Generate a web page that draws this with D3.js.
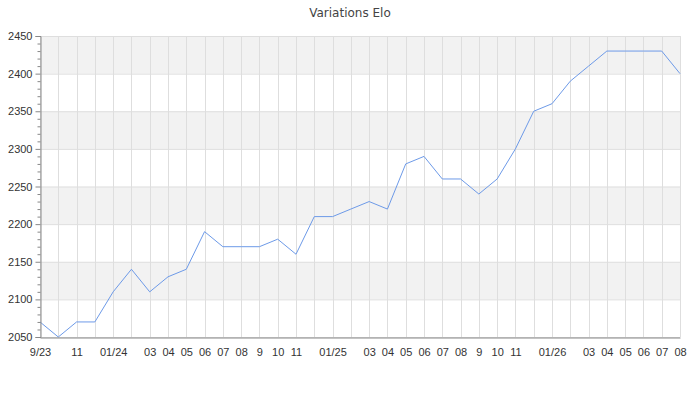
<!DOCTYPE html>
<html>
<head>
<meta charset="utf-8">
<script src="https://cdn.jsdelivr.net/npm/d3@7"></script>
<style>
  body { margin: 0; background: #fff; }
  svg { display: block; font-family: "DejaVu Sans", sans-serif; }
</style>
</head>
<body>
<svg id="chart" width="700" height="400"></svg>
<script>
const title = "Variations Elo";
const tickLabels = ["9/23","","11","","01/24","","03","04","05","06","07","08","9","10","11","","01/25","","03","04","05","06","07","08","9","10","11","","01/26","","03","04","05","06","07","08"];
const elo = [2070,2050,2070,2070,2110,2140,2110,2130,2140,2190,2170,2170,2170,2180,2160,2210,2210,2220,2230,2220,2280,2290,2260,2260,2240,2260,2300,2350,2360,2390,2410,2430,2430,2430,2430,2400];
const yTicks = [2050,2100,2150,2200,2250,2300,2350,2400,2450];

const margin = {left: 40, right: 20, top: 36, bottom: 63};
const W = 700, H = 400;
const svg = d3.select("#chart");
const idx = d3.range(elo.length);
const x = d3.scaleLinear().domain([0, elo.length - 1]).range([margin.left, W - margin.right]);
const y = d3.scaleLinear().domain([2050, 2450]).range([H - margin.bottom, margin.top]);

// alternating bands
const bands = d3.range(0, yTicks.length - 1).map(i => [yTicks[i], yTicks[i+1], i]);
svg.append("g").selectAll("rect").data(bands).join("rect")
  .attr("x", x(0)).attr("width", x(elo.length - 1) - x(0))
  .attr("y", d => y(d[1])).attr("height", d => y(d[0]) - y(d[1]))
  .attr("fill", d => d[2] % 2 === 1 ? "#f2f2f2" : "#ffffff");

// grid lines
svg.append("g").selectAll("line.h").data(yTicks).join("line")
  .attr("x1", x(0)).attr("x2", x(elo.length - 1))
  .attr("y1", d => y(d) + 0.5).attr("y2", d => y(d) + 0.5)
  .attr("stroke", "#dedede").attr("stroke-width", 1);
svg.append("g").selectAll("line.v").data(idx).join("line")
  .attr("x1", d => Math.round(x(d)) + 0.5).attr("x2", d => Math.round(x(d)) + 0.5)
  .attr("y1", y(2450)).attr("y2", y(2050))
  .attr("stroke", "#dedede").attr("stroke-width", 1);

// line
const line = d3.line().x((d, i) => x(i)).y(d => y(d));
svg.append("path").datum(elo)
  .attr("d", line).attr("fill", "none")
  .attr("stroke", "#6d9ae8").attr("stroke-width", 1);

// y axis
const yAxis = d3.axisLeft(y).tickValues(yTicks).tickSize(5).tickPadding(3).tickFormat(d3.format("d"));
const gy = svg.append("g").attr("transform", `translate(${x(0) + 0.5},0)`).call(yAxis);
const minor = d3.range(2050, 2451, 10).filter(v => v % 50 !== 0);
gy.selectAll("line.minor").data(minor).join("line").attr("class", "minor")
  .attr("x1", -3).attr("x2", 0).attr("y1", d => y(d) + 0.5).attr("y2", d => y(d) + 0.5)
  .attr("stroke", "#888");
gy.select(".domain").attr("stroke", "#888");
gy.selectAll(".tick line").attr("stroke", "#888");
gy.selectAll(".tick text").attr("fill", "#333").style("font-size", "11px");

// x axis
const xAxis = d3.axisBottom(x).tickValues(idx).tickSize(0).tickPadding(11).tickFormat(i => tickLabels[i]);
const gx = svg.append("g").attr("transform", `translate(0,${y(2050) + 0.5})`).call(xAxis);
gx.select(".domain").attr("stroke", "#888");
gx.selectAll(".tick text").attr("fill", "#333").style("font-size", "11px");

// title
svg.append("text").attr("x", W / 2).attr("y", 17).attr("text-anchor", "middle")
  .attr("fill", "#444").style("font-size", "12px").text(title);
</script>
</body>
</html>
